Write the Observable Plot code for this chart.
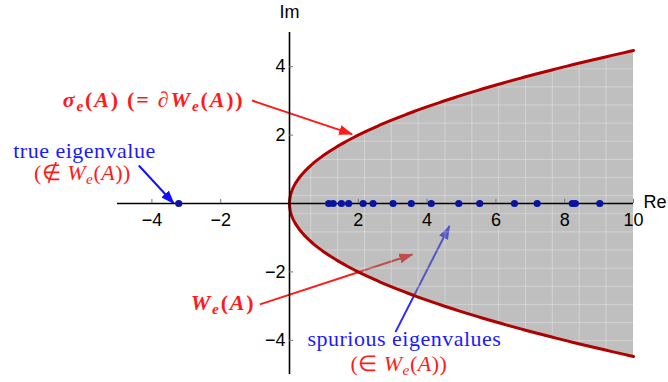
<!DOCTYPE html>
<html><head><meta charset="utf-8">
<script src="https://cdn.jsdelivr.net/npm/d3@7"></script>
<script src="https://cdn.jsdelivr.net/npm/@observablehq/plot@0.6"></script>
<style>body{margin:0;background:#fff}</style>
</head><body><div id="chart"></div>
<script>
// eigenvalues on the real axis
const spurious = [1.14, 1.27, 1.51, 1.72, 2.14, 2.43, 3.01, 3.54, 4.12, 4.92, 5.53, 6.54, 7.20, 8.22, 8.31, 9.02];
const trueEigen = [-3.22];
// axis ticks
const xTicks = [-4, -2, 2, 4, 6, 8, 10];
const yTicks = [-4, -2, 2, 4];
// boundary of W_e(A): Re = Im^2 / 2, up to Re = 10
const reMax = 10;
// faint mesh lines inside the shaded region
const meshX = [0.62, 1.40, 2.18, 2.96, 3.74, 4.52, 5.30, 6.08, 6.86, 7.64, 8.42, 9.20];
const meshY = [-4.01, -3.48, -2.95, -2.42, -1.89, -1.36, -0.83, -0.30, 0.23, 0.76, 1.29, 1.82, 2.35, 2.88, 3.41, 3.94];
// annotation arrows
const arrowX1 = [-1.09, -4.38, -0.86, 3.08];
const arrowY1 = [3.01, 1.11, -2.95, -3.76];
const arrowX2 = [1.82, -3.36, 3.57, 4.65];
const arrowY2 = [2.03, 0.0, -1.49, -0.66];
const arrowColor = ["#ff1a1a", "#1010ff", "#ff1a1a", "#2a2aff"];
// annotation labels
const labelText = ["sigmaLabel", "true eigenvalue", "notInLabel", "WeLabel", "spurious eigenvalues", "inLabel"];
const labelX = [-1.31, -5.96, -6.02, -0.99, 3.34, 3.18];
const labelY = [3.03, 1.55, 0.88, -2.92, -3.96, -4.68];
const labelAnchor = ["end", "middle", "middle", "end", "middle", "middle"];
const labelColor = ["#ff1a1a", "#1a1aff", "#ff1a1a", "#ff1a1a", "#1a1aff", "#ff1a1a"];

const it = s => `<tspan font-style="italic">${s}</tspan>`;
const sub = s => `<tspan font-style="italic" font-size="0.7em" dy="4">${s}</tspan><tspan dy="-4">`;
const We = `${it("W")}${sub("e")}(</tspan>${it("A")})`;
const rich = {
  sigmaLabel: `${it("σ")}${sub("e")}(</tspan>${it("A")}) (= ${it("∂")}${We})`,
  notInLabel: `(∉ ${We})`,
  WeLabel: We,
  inLabel: `(∈ ${We})`
};
const bold = new Set(["sigmaLabel", "WeLabel"]);

const yMax = Math.sqrt(2 * reMax);
const ys = d3.range(0, 301).map(i => -yMax + 2 * yMax * i / 300);
const arrows = arrowX1.map((d, i) => ({x1: d, y1: arrowY1[i], x2: arrowX2[i], y2: arrowY2[i], c: arrowColor[i]}));
const labels = labelText.map((t, i) => ({t, x: labelX[i], y: labelY[i], a: labelAnchor[i], c: labelColor[i]}));
const fmt = d => (d < 0 ? "\u2212" + Math.abs(d) : String(d));
const meshYin = meshY.filter(y => y * y / 2 < reMax);

const plot = Plot.plot({
  width: 668, height: 382,
  marginLeft: 117, marginRight: 35, marginTop: 32, marginBottom: 8,
  x: {domain: [-5, 10], axis: null},
  y: {domain: [-5, 5], axis: null},
  style: {background: "#fff", overflow: "visible"},
  marks: [
    Plot.link(arrows, {x1: "x1", y1: "y1", x2: "x2", y2: "y2", stroke: "c", strokeWidth: 2}),
    Plot.areaX(ys, {y: d => d, x1: d => d * d / 2, x2: reMax, fill: "#808080", fillOpacity: 0.5}),
    Plot.ruleX(meshX, {x: d => d, y1: d => -Math.sqrt(2 * d), y2: d => Math.sqrt(2 * d), stroke: "#fff", strokeOpacity: 0.3, strokeWidth: 1}),
    Plot.ruleY(meshYin, {y: d => d, x1: d => d * d / 2, x2: reMax, stroke: "#fff", strokeOpacity: 0.3, strokeWidth: 1}),
    Plot.line(ys, {x: d => d * d / 2, y: d => d, stroke: "#b00000", strokeWidth: 3}),
    Plot.ruleY([0], {x1: -5, x2: 10, stroke: "#000", strokeWidth: 1.6}),
    Plot.ruleX([0], {y1: -5, y2: 5, stroke: "#000", strokeWidth: 1.6}),
    Plot.ruleX(xTicks, {x: d => d, y1: 0, y2: 0.12, stroke: "#777", strokeWidth: 1}),
    Plot.ruleY(yTicks, {y: d => d, x1: 0, x2: 0.12, stroke: "#777", strokeWidth: 1}),
    Plot.text(xTicks, {x: d => d, y: 0, text: fmt, dy: 17, fontSize: 18, fill: "#000", fontFamily: "Liberation Sans"}),
    Plot.text(yTicks, {x: 0, y: d => d, text: fmt, dx: -4, textAnchor: "end", fontSize: 18, fill: "#000", fontFamily: "Liberation Sans"}),
    Plot.text(["Im"], {x: 0, y: 5, text: d => d, dy: -20, fontSize: 18, fontFamily: "Liberation Sans", fill: "#000"}),
    Plot.text(["Re"], {x: 10, y: 0, text: d => d, dx: 10, dy: -1, textAnchor: "start", fontSize: 18, fontFamily: "Liberation Sans", fill: "#000"}),
    Plot.dot(trueEigen.concat(spurious), {x: d => d, y: 0, r: 3.6, fill: "#0a14a0", stroke: null}),
    Plot.text(labels, {x: "x", y: "y", text: "t", textAnchor: "end", fill: "c", fontSize: 22, fontFamily: "Liberation Serif"})
  ]
});
document.getElementById("chart").appendChild(plot);

// rich math text and filled arrowheads
const svg = d3.select(plot);
svg.selectAll("text").each(function () {
  const key = this.textContent;
  const lab = labels.find(l => l.t === key);
  if (!lab) return;
  d3.select(this).attr("text-anchor", lab.a).style("letter-spacing", "0.5px");
  if (bold.has(key)) d3.select(this).attr("font-weight", "bold").style("letter-spacing", "1.8px");
  if (rich[key]) this.innerHTML = rich[key];
});
const defs = svg.append("defs");
arrowColor.forEach((c, i) => {
  defs.append("marker").attr("id", "ah" + i).attr("markerUnits", "userSpaceOnUse")
    .attr("markerWidth", 14).attr("markerHeight", 10).attr("refX", 13).attr("refY", 5).attr("orient", "auto")
    .append("path").attr("d", "M0,0L14,5L0,10Z").attr("fill", c);
});
svg.selectAll('g[aria-label="link"] path').each(function (d, i) {
  d3.select(this).attr("marker-end", `url(#ah${i})`);
});
</script></body></html>
